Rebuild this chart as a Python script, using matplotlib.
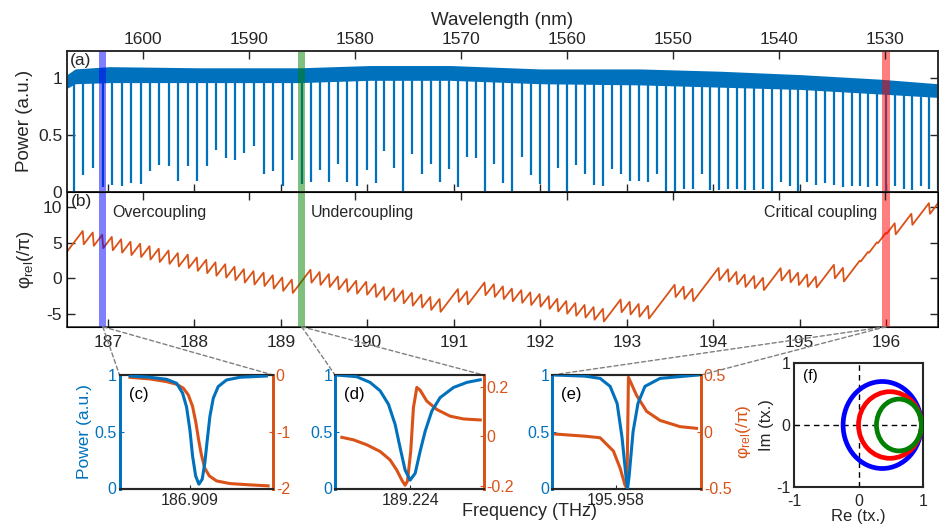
import numpy as np
import matplotlib
matplotlib.use('Agg')
import matplotlib.pyplot as plt
from matplotlib.patches import Ellipse, ConnectionPatch, Rectangle
from matplotlib.transforms import blended_transform_factory

plt.rcParams['font.family'] = ['Liberation Sans', 'DejaVu Sans']
plt.rcParams['mathtext.fontset'] = 'custom'
plt.rcParams['mathtext.rm'] = 'Liberation Sans'
plt.rcParams['mathtext.it'] = 'Liberation Sans:italic'
plt.rcParams['axes.unicode_minus'] = False

BLUE = '#0072BD'
ORANGE = '#D95319'
DARK = '#262626'

# ---------------- data: panel (a) ----------------
res_freq = [186.607, 186.714, 186.830, 186.939, 187.050, 187.158, 187.266, 187.378, 187.486, 187.593,
            187.706, 187.813, 187.929, 188.033, 188.142, 188.249, 188.362, 188.469, 188.577, 188.689,
            188.805, 188.912, 189.021, 189.132, 189.241, 189.348, 189.453, 189.560, 189.664, 189.767,
            189.876, 189.992, 190.097, 190.196, 190.309, 190.416, 190.520, 190.629, 190.733, 190.841,
            190.945, 191.053, 191.157, 191.257, 191.361, 191.469, 191.573, 191.677, 191.786, 191.890,
            191.998, 192.102, 192.202, 192.306, 192.411, 192.518, 192.622, 192.730, 192.834, 192.935,
            193.039, 193.143, 193.251, 193.355, 193.452, 193.560, 193.663, 193.764, 193.868, 193.964,
            194.068, 194.176, 194.273, 194.369, 194.477, 194.581, 194.685, 194.786, 194.890, 194.986,
            195.090, 195.191, 195.295, 195.402, 195.506, 195.604, 195.700, 195.796, 195.900, 196.001,
            196.105, 196.201, 196.298, 196.402, 196.501, 196.598]
dip_depth = [0.00, 0.15, 0.21, 0.04, 0.06, 0.05, 0.08, 0.07, 0.18, 0.24,
             0.23, 0.10, 0.23, 0.10, 0.23, 0.37, 0.30, 0.28, 0.34, 0.40,
             0.16, 0.18, 0.05, 0.28, 0.07, 0.09, 0.19, 0.09, 0.25, 0.09,
             0.05, 0.19, 0.08, 0.36, 0.21, 0.00, 0.33, 0.16, 0.25, 0.09,
             0.20, 0.04, 0.31, 0.30, 0.01, 0.25, 0.08, 0.00, 0.31, 0.15,
             0.07, 0.01, 0.21, 0.01, 0.24, 0.16, 0.06, 0.05, 0.20, 0.16,
             0.10, 0.10, 0.09, 0.16, 0.00, 0.00, 0.03, 0.03, 0.16, 0.02,
             0.02, 0.03, 0.03, 0.02, 0.02, 0.03, 0.00, 0.09, 0.05, 0.00,
             0.09, 0.06, 0.08, 0.06, 0.04, 0.05, 0.05, 0.04, 0.05, 0.00,
             0.05, 0.03, 0.02, 0.05, 0.03, 0.02]
base_freq = [186.526, 186.62, 187.02, 188.06, 189.22, 190.03, 190.96, 192.00, 193.15, 194.08, 195.01, 195.93, 196.60]
base_top = [1.03, 1.08, 1.10, 1.09, 1.09, 1.11, 1.11, 1.08, 1.08, 1.06, 1.03, 0.99, 0.95]
base_bot = [0.91, 0.95, 0.96, 0.96, 0.96, 0.98, 0.98, 0.95, 0.94, 0.92, 0.90, 0.86, 0.83]

# ---------------- data: panel (b) ----------------
phase_start = 3.75          # phase at left edge (units of pi)
phase_slope = 16.0          # phase rise per THz between resonances
phase_jump = ([0.0] + [2.07] * 23 + [0.0] + [2.0] * 15 + [0.0, 2.0, 2.0, 0.0] + [1.97] * 14 + [0.0]
              + [1.98] * 4 + [0.0, 0.0] + [1.92] * 3 + [0.0, 0.0]
              + [1.92, 1.92, 1.92, 1.92, 1.92, 1.92, 0.0, 1.92, 1.92, 1.92, 1.92]
              + [1.7, 0.0, 2.1, 2.1, 0.0] + [0.3] * 4 + [1.75, 0.0, 1.75, 0.0, 1.7, 0.0])

freq_lim = (186.526, 196.60)
wl_lim = (1607.17, 1525.0)
freq_ticks = [187, 188, 189, 190, 191, 192, 193, 194, 195, 196]
wl_ticks = [1600, 1590, 1580, 1570, 1560, 1550, 1540, 1530]

band_centers = [186.94, 189.24, 196.00]
band_colors = ['#0000FF', '#008000', '#FF0000']
band_width = 0.085
band_labels = ['186.909', '189.224', '195.958']

# ---------------- data: insets ----------------
c_x_pow = [-3.90, -2.60, -1.52, -0.87, -0.48, -0.22, 0.0, 0.17, 0.37, 0.58, 0.80, 0.97, 1.13, 1.30, 1.52, 1.84, 2.38, 3.25, 4.98]
c_pow = [0.991, 0.980, 0.962, 0.927, 0.840, 0.717, 0.513, 0.286, 0.111, 0.038, 0.082, 0.227, 0.431, 0.636, 0.796, 0.898, 0.956, 0.980, 0.991]
c_x_ph = [-3.90, -2.60, -1.52, -0.87, -0.43, -0.11, 0.17, 0.39, 0.56, 0.74, 0.95, 1.26, 1.73, 2.60, 3.90, 5.09]
c_ph = [-0.041, -0.070, -0.117, -0.163, -0.233, -0.350, -0.554, -0.845, -1.137, -1.399, -1.633, -1.778, -1.866, -1.913, -1.936, -1.953]

d_x_pow = [-4.94, -3.60, -2.70, -2.02, -1.46, -1.01, -0.67, -0.34, 0.0, 0.34, 0.67, 1.01, 1.46, 2.02, 2.92, 3.82, 4.72]
d_pow = [1.0, 0.985, 0.935, 0.861, 0.742, 0.564, 0.356, 0.163, 0.074, 0.134, 0.326, 0.504, 0.682, 0.801, 0.890, 0.935, 0.958]
d_x_ph = [-4.60, -3.82, -2.92, -2.02, -1.35, -0.90, -0.56, -0.34, -0.18, 0.04, 0.22, 0.45, 0.67, 1.12, 1.80, 2.70, 3.60, 4.72]
d_ph = [-0.004, -0.014, -0.034, -0.061, -0.095, -0.136, -0.176, -0.197, -0.18, -0.06, 0.115, 0.197, 0.186, 0.142, 0.108, 0.081, 0.070, 0.066]

e_x_pow = [-4.1, -2.1, -1.07, -0.4, 0.07, 0.4, 0.67, 0.77, 0.87, 1.14, 1.47, 1.94, 2.95, 5.5]
e_pow = [1.0, 0.99, 0.97, 0.9, 0.75, 0.45, 0.1, 0.0, 0.1, 0.5, 0.75, 0.9, 0.97, 1.0]
e_x_ph = [-4.1, -2.0, -1.07, -0.18, 0.27, 0.60, 0.73, 0.78, 0.83, 1.38, 2.05, 2.95, 4.29, 5.4]
e_ph = [-0.02, -0.04, -0.053, -0.17, -0.32, -0.47, -0.5, 0.0, 0.48, 0.32, 0.18, 0.10, 0.045, 0.03]

f_cx = [0.37, 0.49, 0.63]
f_w = [1.22, 0.98, 0.70]
f_h = [1.41, 1.08, 0.84]
f_colors = ['#0000FF', '#FF0000', '#008000']

# ---------------- figure ----------------
fig = plt.figure(figsize=(9.39, 5.24), dpi=100)
W, H = 939.0, 524.0

def px_axes(x0, y0, x1, y1):
    return fig.add_axes([x0 / W, 1 - y1 / H, (x1 - x0) / W, (y1 - y0) / H])

ax_a = px_axes(67, 50.7, 938, 192)
ax_b = px_axes(67, 192, 938, 326.7)

def style_main(ax):
    ax.tick_params(direction='in', length=6, width=1, labelsize=12.5, colors=DARK,
                   top=False, right=True)
    for s in ax.spines.values():
        s.set_color(DARK)
        s.set_linewidth(1.1)

# panel (a)
ax_a.fill_between(base_freq, base_bot, base_top, color=BLUE, lw=0, zorder=2)
rf = np.array(res_freq)
base_mid = np.interp(rf, base_freq, (np.array(base_top) + np.array(base_bot)) / 2)
ax_a.vlines(rf, dip_depth, base_mid, color=BLUE, lw=1.6, zorder=2)
ax_a.set_xlim(*freq_lim)
ax_a.set_ylim(0, 1.24)
ax_a.set_yticks([0, 0.5, 1])
ax_a.set_yticklabels(['0', '0.5', '1'])
ax_a.set_xticks(freq_ticks)
ax_a.set_xticklabels([])
style_main(ax_a)
ax_a.set_ylabel('Power (a.u.)', fontsize=13.5, color=DARK)
ax_a.yaxis.set_label_coords(-0.039, 0.5)
ax_a.text(0.003, 0.985, '(a)', transform=ax_a.transAxes, ha='left', va='top', fontsize=12.5, color=DARK)

top_a = ax_a.twiny()
top_a.set_xlim(*wl_lim)
top_a.set_xticks(wl_ticks)
top_a.set_xticklabels([str(t) for t in wl_ticks])
top_a.tick_params(direction='in', length=6, width=1, labelsize=12.5, colors=DARK, pad=3)
top_a.set_xlabel('Wavelength (nm)', fontsize=13.5, color=DARK, labelpad=5)
for s in top_a.spines.values():
    s.set_color(DARK)
    s.set_linewidth(1.1)

# panel (b)
f0, f1 = freq_lim
dlt = 0.006
xs = [f0]
ys = [phase_start]
cum = 0.0
for fk, jk in zip(res_freq, phase_jump):
    xs += [fk - dlt]
    ys += [phase_start + phase_slope * (fk - dlt - f0) - cum]
    cum += jk
    xs += [fk + dlt]
    ys += [phase_start + phase_slope * (fk + dlt - f0) - cum]
xs.append(f1)
ys.append(phase_start + phase_slope * (f1 - f0) - cum)
ax_b.plot(xs, ys, color=ORANGE, lw=1.3, zorder=2)
ax_b.set_xlim(*freq_lim)
ax_b.set_ylim(-6.82, 12.15)
ax_b.set_yticks([-5, 0, 5, 10])
ax_b.set_yticklabels(['-5', '0', '5', '10'])
ax_b.set_xticks(freq_ticks)
ax_b.set_xticklabels([str(t) for t in freq_ticks])
style_main(ax_b)
ax_b.tick_params(axis='x', pad=6)
ax_b.set_ylabel('φ$_{\\mathrm{rel}}$(/π)', fontsize=13.5, color=DARK)
ax_b.yaxis.set_label_coords(-0.036, 0.5)
ax_b.text(0.004, 0.985, '(b)', transform=ax_b.transAxes, ha='left', va='top', fontsize=12.5, color=DARK)
ax_b.text(187.05, 9.2, 'Overcoupling', fontsize=11.5, color=DARK, ha='left', va='center')
ax_b.text(189.35, 9.2, 'Undercoupling', fontsize=11.5, color=DARK, ha='left', va='center')
ax_b.text(195.90, 9.2, 'Critical coupling', fontsize=11.5, color=DARK, ha='right', va='center')

top_b = ax_b.twiny()
top_b.set_xlim(*wl_lim)
top_b.set_xticks(wl_ticks)
top_b.set_xticklabels([])
top_b.tick_params(direction='in', length=6, width=1, colors=DARK)

# coloured bands across (a) and (b)
for cen, col in zip(band_centers, band_colors):
    for ax in (ax_a, ax_b):
        tr = blended_transform_factory(ax_b.transData, ax.transAxes)
        ax.add_patch(Rectangle((cen - band_width / 2, 0), band_width, 1, transform=tr,
                               facecolor=col, alpha=0.5, lw=0, zorder=5))

# ---------------- insets ----------------
ax_c = px_axes(119.5, 375, 273, 488.5)
ax_d = px_axes(335, 375, 483.5, 488.5)
ax_e = px_axes(552, 375, 701, 488.5)

inset_specs = [
    (ax_c, c_x_pow, c_pow, c_x_ph, c_ph, (-4.59, 5.41), (-2, 0), [-2, -1, 0], ['-2', '-1', '0'], '(c)', band_labels[0]),
    (ax_d, d_x_pow, d_pow, d_x_ph, d_ph, (-5.06, 4.94), (-0.21, 0.247), [-0.2, 0, 0.2], ['-0.2', '0', '0.2'], '(d)', band_labels[1]),
    (ax_e, e_x_pow, e_pow, e_x_ph, e_ph, (-4.3, 5.7), (-0.5, 0.5), [-0.5, 0, 0.5], ['-0.5', '0', '0.5'], '(e)', band_labels[2]),
]
twins = []
for ax, xp, yp, xq, yq, xl, yl2, t2, tl2, lab, flab in inset_specs:
    tw = ax.twinx()
    twins.append(tw)
    ax.plot(xp, yp, color=BLUE, lw=2.2, zorder=3)
    tw.plot(xq, yq, color=ORANGE, lw=2.2, zorder=3)
    ax.set_zorder(tw.get_zorder() + 1)
    ax.patch.set_visible(False)
    ax.set_xlim(*xl)
    ax.set_ylim(0, 1)
    ax.set_yticks([0, 0.5, 1])
    ax.set_yticklabels(['0', '0.5', '1'])
    ax.set_xticks([0])
    ax.set_xticklabels([flab])
    tw.set_ylim(*yl2)
    tw.set_yticks(t2)
    tw.set_yticklabels(tl2)
    ax.tick_params(axis='y', direction='in', length=3, colors=BLUE, labelsize=11.5, pad=2)
    ax.tick_params(axis='x', direction='in', length=3, colors=DARK, labelsize=11.5, pad=3)
    tw.tick_params(axis='y', direction='in', length=3, colors=ORANGE, labelsize=11.5, pad=2)
    for a in (ax, tw):
        a.spines['top'].set_color(DARK)
        a.spines['bottom'].set_color(DARK)
        a.spines['top'].set_linewidth(1.5)
        a.spines['bottom'].set_linewidth(1.5)
        a.spines['left'].set_color(BLUE)
        a.spines['left'].set_linewidth(2.0)
        a.spines['right'].set_color(ORANGE)
        a.spines['right'].set_linewidth(2.0)
    ax.text(0.06, 0.83, lab, transform=ax.transAxes, fontsize=12, color='black', ha='left', va='center')

ax_c.set_ylabel('Power (a.u.)', color=BLUE, fontsize=12.5, labelpad=2)
twins[2].set_ylabel('φ$_{\\mathrm{rel}}$(/π)', color=ORANGE, fontsize=12.5, labelpad=2)
fig.text(530 / W, 1 - 512 / H, 'Frequency (THz)', fontsize=13, color=DARK, ha='center', va='center')

# connector lines from the bands to the insets
for cen, ax in zip(band_centers, (ax_c, ax_d, ax_e)):
    for corner in ((0, 1), (1, 1)):
        con = ConnectionPatch(xyA=(cen, -6.82), coordsA=ax_b.transData,
                              xyB=corner, coordsB=ax.transAxes,
                              color='#808080', lw=1.0, linestyle=(0, (3, 2)), zorder=1)
        fig.add_artist(con)

# panel (f)
ax_f = px_axes(794.3, 363.3, 922.7, 486.7)
for cx, w, h, col in zip(f_cx, f_w, f_h, f_colors):
    ax_f.add_patch(Ellipse((cx, 0), w, h, facecolor='none', edgecolor=col, lw=3.4, zorder=3))
ax_f.axhline(0, color='black', ls=(0, (4, 3)), lw=1, zorder=2)
ax_f.axvline(0, color='black', ls=(0, (4, 3)), lw=1, zorder=2)
ax_f.set_xlim(-1, 1)
ax_f.set_ylim(-1, 1)
ax_f.set_xticks([-1, 0, 1])
ax_f.set_yticks([-1, 0, 1])
ax_f.set_xticklabels(['-1', '0', '1'])
ax_f.set_yticklabels(['-1', '0', '1'])
ax_f.tick_params(axis='both', direction='in', length=3, colors=DARK, labelsize=11.5)
ax_f.tick_params(axis='x', pad=5)
ax_f.tick_params(axis='y', pad=3)
for s in ax_f.spines.values():
    s.set_color(DARK)
    s.set_linewidth(1.5)
ax_f.set_xlabel('Re (tx.)', fontsize=12, color=DARK, labelpad=0)
ax_f.set_ylabel('Im (tx.)', fontsize=12, color=DARK, labelpad=1)
ax_f.text(0.07, 0.9, '(f)', transform=ax_f.transAxes, fontsize=11, color='black', ha='left', va='center')

fig.savefig('out.png', dpi=100)
